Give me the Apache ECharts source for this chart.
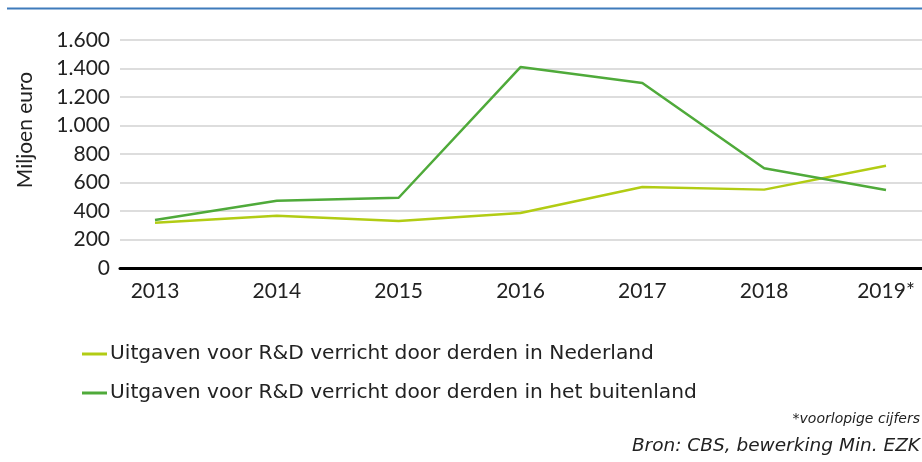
<!DOCTYPE html>
<html>
<head>
<meta charset="utf-8">
<script src="https://cdn.jsdelivr.net/npm/echarts@6/dist/echarts.min.js"></script>
<style>
  html, body { margin: 0; padding: 0; background: #fff; }
  #chart { width: 922px; height: 462px; }
</style>
</head>
<body>
<div id="chart"></div>
<script>
// R&D-uitgaven verricht door derden, miljoen euro
const years = ['2013', '2014', '2015', '2016', '2017', '2018', '2019*'];
const nederland = [318, 367, 330, 386, 568, 550, 718];
const buitenland = [337, 472, 493, 1410, 1298, 700, 547];
const yTicks = { min: 0, max: 1600, interval: 200 };

const FONT = 'Lato';
const TEXT_FONT = 'DejaVu Sans';
const nlColor = '#b2cc14';
const buColor = '#4faa3a';

const chart = echarts.init(document.getElementById('chart'), null, { renderer: 'canvas' });

const nlFormat = v => v.toLocaleString('nl-NL');

chart.setOption({
  animation: false,
  textStyle: { fontFamily: FONT },
  grid: [
    // background grid: gridlines and baseline over full width
    { left: 120, right: 0, top: 40, height: 228 },
    // data grid: category positions
    { left: 155, right: 36, top: 40, height: 228 }
  ],
  xAxis: [
    {
      gridIndex: 0, type: 'value', min: 0, max: 1,
      axisLine: { show: true, onZero: false, lineStyle: { color: '#000', width: 3 } },
      axisTick: { show: false }, axisLabel: { show: false }, splitLine: { show: false }
    },
    {
      gridIndex: 1, type: 'category', data: years, boundaryGap: false,
      axisLine: { show: false }, axisTick: { show: false },
      axisLabel: { color: '#222', fontSize: 21, fontFamily: FONT, margin: 13 }
    }
  ],
  yAxis: [
    {
      gridIndex: 0, type: 'value', min: yTicks.min, max: yTicks.max, interval: yTicks.interval,
      axisLine: { show: false }, axisTick: { show: false },
      axisLabel: { color: '#222', fontSize: 21, fontFamily: FONT, margin: 10, formatter: nlFormat },
      splitLine: { lineStyle: { color: '#d2d2d2', width: 1.5 } }
    },
    {
      gridIndex: 1, type: 'value', min: yTicks.min, max: yTicks.max, interval: yTicks.interval,
      show: false, splitLine: { show: false }
    }
  ],
  legend: {
    orient: 'vertical', left: 77, top: 339, itemWidth: 25, itemHeight: 3, itemGap: 19,
    icon: 'rect',
    textStyle: { color: '#222', fontSize: 20.2, fontFamily: TEXT_FONT, padding: [0, 0, 0, -2] },
    data: [
      'Uitgaven voor R&D verricht door derden in Nederland',
      'Uitgaven voor R&D verricht door derden in het buitenland'
    ]
  },
  series: [
    {
      name: 'Uitgaven voor R&D verricht door derden in Nederland',
      type: 'line', xAxisIndex: 1, yAxisIndex: 1, data: nederland,
      symbol: 'none', lineStyle: { color: nlColor, width: 2.5 }, itemStyle: { color: nlColor }
    },
    {
      name: 'Uitgaven voor R&D verricht door derden in het buitenland',
      type: 'line', xAxisIndex: 1, yAxisIndex: 1, data: buitenland,
      symbol: 'none', lineStyle: { color: buColor, width: 2.5 }, itemStyle: { color: buColor }
    }
  ],
  graphic: [
    {
      type: 'line', shape: { x1: 7, y1: 8.5, x2: 922, y2: 8.5 },
      style: { stroke: '#3f7bbb', lineWidth: 2 }
    },
    {
      type: 'text', x: 25, y: 130, rotation: Math.PI / 2,
      style: { text: 'Miljoen euro', font: '21px ' + FONT, fill: '#222', align: 'center', verticalAlign: 'middle' }
    },
    {
      type: 'text', right: 2, top: 412,
      style: { text: '*voorlopige cijfers', font: 'italic 14px ' + TEXT_FONT, fill: '#222' }
    },
    {
      type: 'text', right: 2, top: 437,
      style: { text: 'Bron: CBS, bewerking Min. EZK', font: 'italic 18.5px ' + TEXT_FONT, fill: '#222' }
    }
  ]
});
</script>
</body>
</html>
